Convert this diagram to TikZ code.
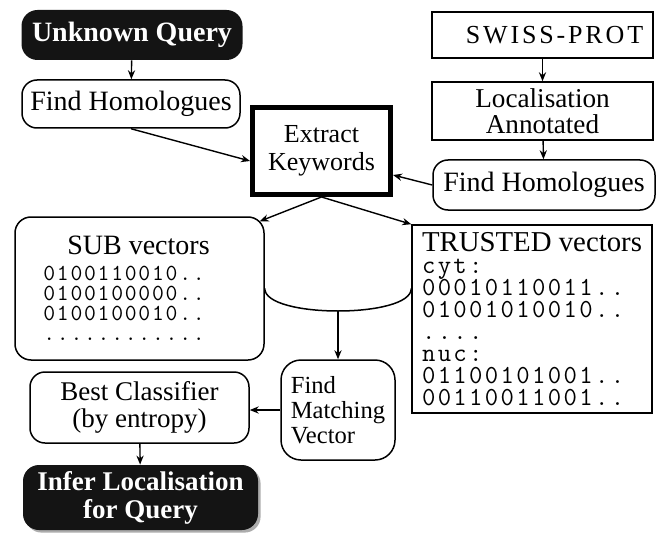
\documentclass[tikz,border=0pt]{standalone}
\usepackage{fontspec}
\setmainfont{Liberation Serif}
\setmonofont{Latin Modern Mono}
\usetikzlibrary{arrows.meta,shadows,calc}
\newcommand{\tightlines}{\lineskiplimit=-20pt\relax}

\begin{document}
\begin{tikzpicture}[x=0.5pt, y=-0.5pt,
  arr/.style={-{Stealth[length=4.5pt,width=3.6pt]}, line width=0.7pt},
  box/.style={draw, line width=0.75pt, inner sep=2pt, align=center, font=\fontsize{13.5}{13.5}\selectfont},
  roundbox/.style={box, rounded corners=7.5pt},
  blackbox/.style={fill=black!92, text=white, rounded corners=8pt, inner sep=2pt, align=center, font=\fontsize{13.5}{14}\selectfont\bfseries}]
\useasboundingbox (0,0) rectangle (657,534);

% left column: query side
\node[blackbox, minimum width=110.5pt, minimum height=25pt, font=\fontsize{14}{14}\selectfont\bfseries] (query) at (132,35) {Unknown Query};
\node[roundbox, minimum width=109pt, minimum height=24pt, font=\fontsize{14}{14}\selectfont] (homl) at (131,104) {Find Homologues};
\node[box, line width=2.5pt, minimum width=69pt, minimum height=43.5pt, font=\fontsize{13}{14}\selectfont] (extract) at (321.5,151) {Extract\\Keywords};

% right column: database side
\node[box, minimum width=110.5pt, minimum height=23pt, font=\fontsize{13}{13}\selectfont] (swiss) at (542.5,35) {\hspace*{12pt}\addfontfeature{LetterSpace=11}SWISS-PROT};
\node[box, minimum width=110.5pt, minimum height=29pt, font=\fontsize{13.6}{13}\selectfont] (local) at (542.5,111) {Localisation\\Annotated};
\node[roundbox, minimum width=111pt, minimum height=25pt, font=\fontsize{14}{14}\selectfont] (homr) at (544,185) {Find Homologues};

% vector stores
\node[box, rounded corners=8pt, align=left, minimum width=124.5pt, minimum height=71.5pt,
  font=\ttfamily\fontsize{11.5}{10}\selectfont\addfontfeature{LetterSpace=7.6}\tightlines] (sub) at (139.5,288.5)
  {{\rmfamily\fontsize{14}{14}\selectfont\hspace*{12pt}SUB vectors\hspace*{13pt}}\\[3pt]
   0100110010..\\0100100000..\\0100100010..\\............};
\node[box, align=left, minimum width=120pt, minimum height=94pt,
  font=\ttfamily\fontsize{13}{11}\selectfont\addfontfeature{LetterSpace=9}\tightlines] (trust) at (532,319)
  {{\rmfamily\fontsize{14.4}{14}\selectfont TRUSTED vectors}\\
   cyt:\\00010110011..\\01001010010..\\....\\nuc:\\01100101001..\\00110011001..};

% classification
\node[box, rounded corners=10pt, align=left, minimum width=57pt, minimum height=50pt, font=\fontsize{12.3}{12.5}\selectfont] (match) at (338,410) {Find\\Matching\\Vector};
\node[roundbox, minimum width=109.5pt, minimum height=35.5pt] (best) at (139.5,407.5) {Best Classifier\\(by entropy)};
\node[blackbox, minimum width=117.5pt, minimum height=32.5pt,
  drop shadow={shadow xshift=1.3pt, shadow yshift=-1.3pt, fill=gray!65, opacity=1}] (infer) at (140.5,497.5) {Infer Localisation\\for Query};

\draw[arr] (query) -- (homl);
\draw[arr] (homl.south) -- ([yshift=-5pt]extract.west);
\draw[arr] (swiss) -- (local);
\draw[arr] (local) -- (homr);
\draw[arr] (homr.west) -- ([yshift=-12pt]extract.east);
\draw[arr] (extract.south) -- ([xshift=-2.5pt,yshift=-2.5pt]sub.north east);
\draw[arr] (extract.south) -- (trust.north west);
\draw[line width=0.75pt] (sub.east) .. controls +(0,30) and +(0,30) .. (trust.west |- sub.east) coordinate[pos=0.5] (cylbot);
\draw[arr] (cylbot) -- (match.north);
\draw[arr] (match.west) -- (match.west -| best.east);
\draw[arr] (best) -- (infer);
\end{tikzpicture}
\end{document}
